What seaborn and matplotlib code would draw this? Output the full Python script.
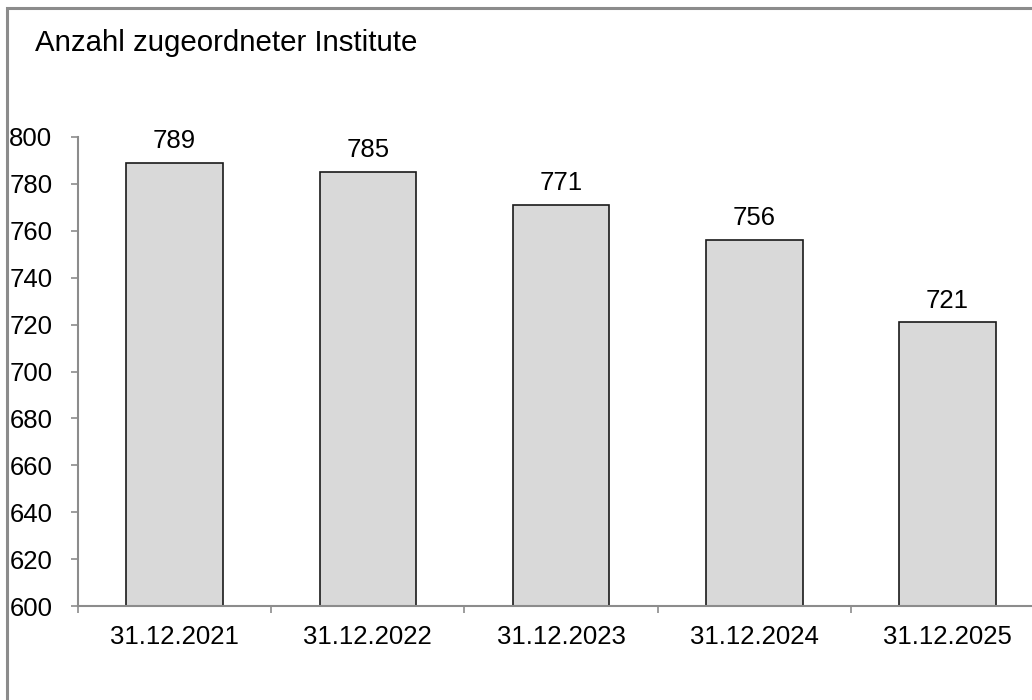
import matplotlib
matplotlib.use("Agg")
import matplotlib.pyplot as plt
import seaborn as sns
import pandas as pd
from matplotlib.patches import Rectangle

categories = ["31.12.2021", "31.12.2022", "31.12.2023", "31.12.2024", "31.12.2025"]
values = [789, 785, 771, 756, 721]
yticks = [600, 620, 640, 660, 680, 700, 720, 740, 760, 780, 800]
title = "Anzahl zugeordneter Institute"

sns.set_theme(style="white")
plt.rcParams['font.family'] = ['Liberation Sans', 'DejaVu Sans']

W, H = 1032, 700
FS = 18.5
fig = plt.figure(figsize=(W / 100, H / 100), dpi=100)
fig.patch.set_facecolor("white")

# frame around the chart (cut off at right / bottom)
fig.add_artist(Rectangle((7 / W, -0.1), 1.2, 1 - 8 / H + 0.1, transform=fig.transFigure,
                         fill=False, edgecolor="#8c8c8c", linewidth=2.2, zorder=0))

left, right, bottom, top = 78 / W, 1044 / W, 1 - 606 / H, 1 - 137 / H
ax = fig.add_axes([left, bottom, right - left, top - bottom])
ax.set_facecolor("none")

df = pd.DataFrame({"cat": categories, "val": values})
sns.barplot(data=df, x="cat", y="val", ax=ax, width=0.5, color="#d9d9d9",
            saturation=1, edgecolor="#1a1a1a", linewidth=1.2)

ax.set_ylim(600, 800)
ax.set_xlim(-0.5, len(categories) - 0.5)
ax.set_yticks(yticks)
ax.set_yticklabels([str(t) for t in yticks], fontsize=FS)
ax.set_xticks(range(len(categories)))
ax.set_xticklabels(categories, fontsize=FS)
ax.set_xticks([i - 0.5 for i in range(len(categories) + 1)], minor=True)
ax.tick_params(axis="x", which="major", bottom=True, length=0, pad=14, labelcolor="black")
ax.tick_params(axis="x", which="minor", bottom=True, length=5, width=1.2,
               color="#8c8c8c", direction="out")
ax.tick_params(axis="y", which="major", left=True, length=5, width=1.2, color="#8c8c8c",
               direction="out", pad=13.5, labelcolor="black")
ax.set_xlabel("")
ax.set_ylabel("")

for s in ["top", "right"]:
    ax.spines[s].set_visible(False)
for s in ["left", "bottom"]:
    ax.spines[s].set_color("#8c8c8c")
    ax.spines[s].set_linewidth(1.5)

for i, v in enumerate(values):
    ax.annotate(str(v), (i, v), xytext=(0, 7), textcoords="offset points",
                ha="center", va="bottom", fontsize=FS, color="black")

fig.text(35 / W, 1 - 43 / H, title, fontsize=21.2, ha="left", va="center", color="black")

fig.savefig("out.png", dpi=100)
